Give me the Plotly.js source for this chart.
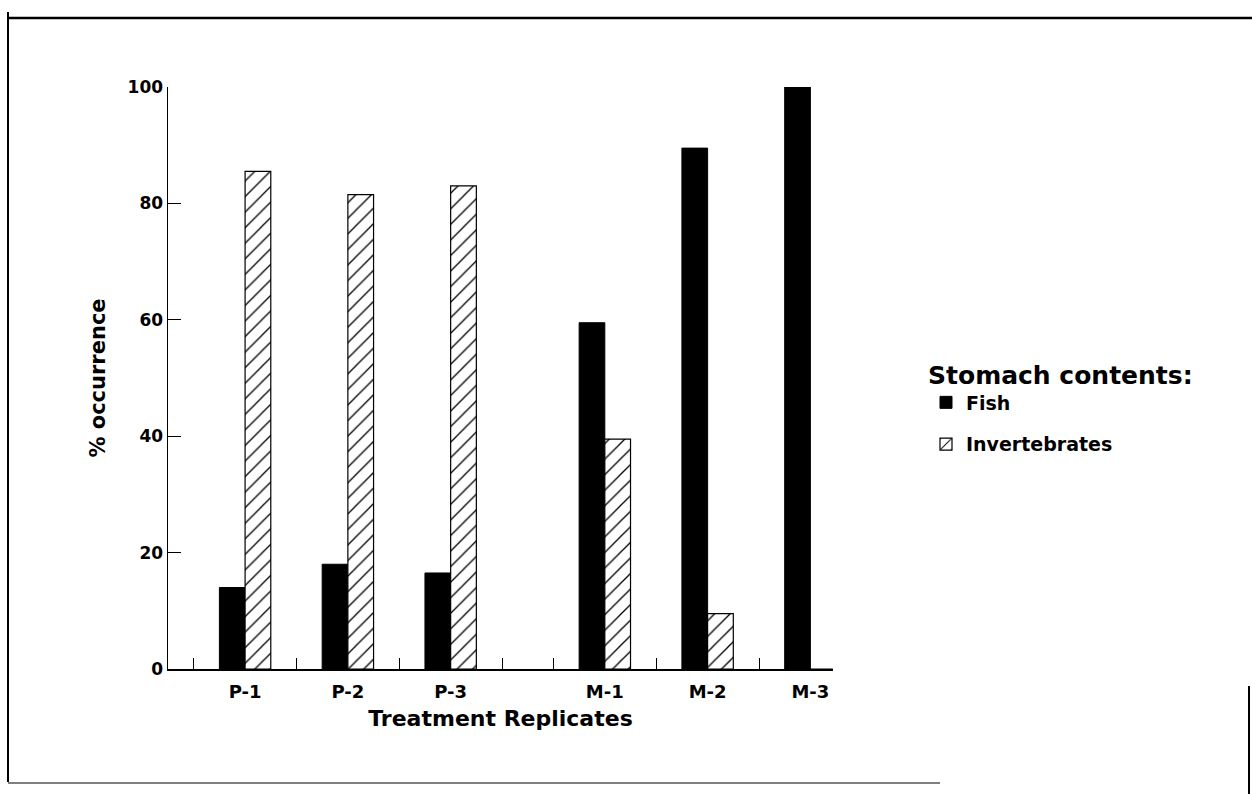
<!DOCTYPE html>
<html>
<head>
<meta charset="utf-8">
<script src="https://cdn.plot.ly/plotly-3.0.1.min.js"></script>
<style>
  html, body { margin: 0; padding: 0; background: #ffffff; }
  #chart { width: 1252px; height: 794px; }
</style>
</head>
<body>
<div id="chart"></div>
<script>
// ---- data ----
const categories = ['P-1', 'P-2', 'P-3', 'M-1', 'M-2', 'M-3'];
const treatmentGroup = ['P', 'P', 'P', 'M', 'M', 'M'];
const fish = [14, 18, 16.5, 59.5, 89.5, 100];
const invertebrates = [85.5, 81.5, 83, 39.5, 9.5, 0];
const yTickValues = [0, 20, 40, 60, 80, 100];
const seriesNames = ['Fish', 'Invertebrates'];
const legendTitle = 'Stomach contents:';
const xTitle = 'Treatment Replicates';
const yTitle = '% occurrence';

// ---- layout helpers ----
const W = 1252, H = 794;
const M = { l: 168, r: 419, t: 87, b: 125 };
const PW = W - M.l - M.r, PH = H - M.t - M.b;
const px = x => (x - M.l) / PW;
const py = y => (H - M.b - y) / PH;

// slot positions: half-slot gap between the two treatment groups
const xPos = [];
let offset = 0;
categories.forEach((c, i) => {
  if (i > 0 && treatmentGroup[i] !== treatmentGroup[i - 1]) offset += 0.5;
  xPos.push(i + 1 + offset);
});
const xRange = [0.25, 6.72];
const boundaries = [];
categories.forEach((c, i) => {
  const p = xPos[i];
  const first = i === 0 || treatmentGroup[i] !== treatmentGroup[i - 1];
  if (first) boundaries.push(p - 0.5);
  boundaries.push(p + 0.5);
});
const tickBoundaries = boundaries.filter(v => v > xRange[0] && v < xRange[1]);

const font = 'DejaVu Sans, Arial, sans-serif';

const traces = [
  {
    type: 'bar', name: seriesNames[0], x: xPos, y: fish,
    marker: { color: '#000000', line: { color: '#000000', width: 1 } },
    legendgroup: 'a', hoverinfo: 'y'
  },
  {
    type: 'bar', name: seriesNames[1], x: xPos, y: invertebrates,
    marker: {
      color: '#ffffff',
      line: { color: '#000000', width: 1.2 },
      pattern: { shape: '/', fgcolor: '#000000', bgcolor: '#ffffff', size: 11, solidity: 0.12 }
    },
    legendgroup: 'b', hoverinfo: 'y'
  }
];

const layout = {
  width: W, height: H,
  margin: M,
  paper_bgcolor: '#ffffff', plot_bgcolor: '#ffffff',
  barmode: 'group', bargap: 0.5, bargroupgap: 0,
  showlegend: true,
  font: { family: font, color: '#000000' },
  xaxis: {
    range: xRange, showgrid: false, zeroline: false,
    showline: true, linecolor: '#000000', linewidth: 1.5,
    tickmode: 'array', tickvals: xPos, ticktext: categories, ticks: '',
    ticklabelstandoff: 6,
    tickfont: { family: font, size: 18, weight: 'bold', color: '#000000' },
    minor: { tickmode: 'array', tickvals: tickBoundaries, ticks: 'inside', ticklen: 11, tickwidth: 1, tickcolor: '#000000', showgrid: false },
    title: { text: xTitle, standoff: 9, font: { family: font, size: 22, weight: 'bold', color: '#000000' } },
    fixedrange: true
  },
  yaxis: {
    range: [0, 100], showgrid: false, zeroline: false,
    showline: true, linecolor: '#000000', linewidth: 1.5,
    tickmode: 'array', tickvals: yTickValues, ticks: 'inside',
    ticklen: 13, tickwidth: 1, tickcolor: '#000000',
    tickfont: { family: font, size: 17, weight: 'bold', color: '#000000' },
    title: { text: yTitle, standoff: 16, font: { family: font, size: 21, weight: 'bold', color: '#000000' } },
    fixedrange: true
  },
  legend: {
    x: px(926), y: py(351), xanchor: 'left', yanchor: 'top',
    bgcolor: 'rgba(0,0,0,0)', borderwidth: 0,
    title: { text: legendTitle, side: 'top', font: { family: font, size: 25, weight: 'bold', color: '#000000' } },
    font: { family: font, size: 19, weight: 'bold', color: '#000000' },
    tracegroupgap: 14, itemwidth: 30, traceorder: 'grouped'
  },
  shapes: [
    { type: 'line', xref: 'paper', yref: 'paper', x0: px(8), x1: px(8), y0: py(12), y1: py(782), line: { color: '#000000', width: 2 } },
    { type: 'line', xref: 'paper', yref: 'paper', x0: px(8), x1: px(1252), y0: py(18), y1: py(18), line: { color: '#000000', width: 2.5 } },
    { type: 'line', xref: 'paper', yref: 'paper', x0: px(8), x1: px(940), y0: py(783), y1: py(783), line: { color: '#555555', width: 1.5 } },
    { type: 'line', xref: 'paper', yref: 'paper', x0: px(1249), x1: px(1249), y0: py(686), y1: py(794), line: { color: '#000000', width: 2 } }
  ]
};

Plotly.newPlot('chart', traces, layout, { displayModeBar: false, staticPlot: true });
</script>
</body>
</html>
